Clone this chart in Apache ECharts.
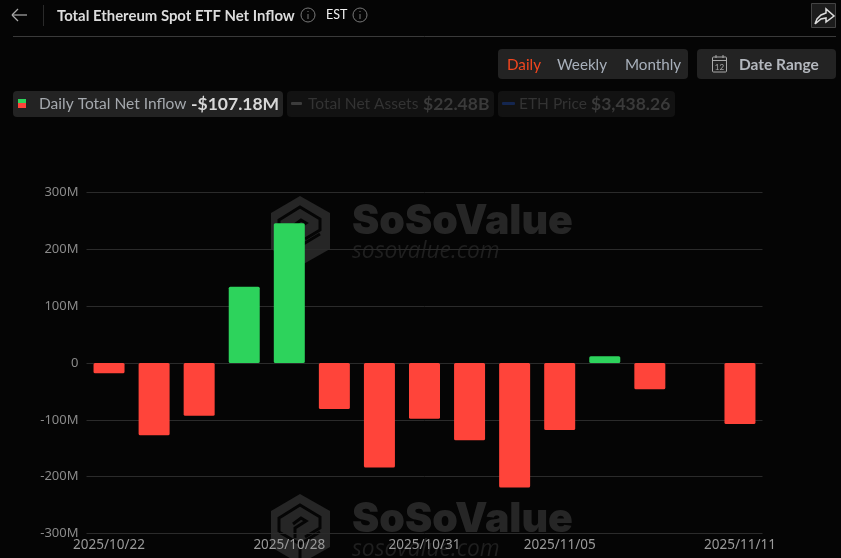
<!DOCTYPE html>
<html><head><meta charset="utf-8">
<style>html,body{margin:0;padding:0;background:#050505;overflow:hidden}#c{width:841px;height:558px}</style>
<script src="https://cdn.jsdelivr.net/npm/echarts@6/dist/echarts.min.js"></script>
</head><body><div id="c"></div>
<script>
const categories=['2025/10/22','2025/10/23','2025/10/24','2025/10/27','2025/10/28','2025/10/29','2025/10/30','2025/10/31','2025/11/03','2025/11/04','2025/11/05','2025/11/06','2025/11/07','2025/11/10','2025/11/11'];
const netInflow=[-18,-127,-93,134,246,-81,-184,-98,-136,-219,-118,12,-46,0,-107.18];
const shownLabels=['2025/10/22','2025/10/28','2025/10/31','2025/11/05','2025/11/11'];
const LATO='Lato, "Noto Sans", sans-serif';
const UP='#2dd35c',DOWN='#ff443a',WM='#262626',BG='#050505';
const chart=echarts.init(document.getElementById('c'));
function T(x,y,text,size,fill,weight,align){return {type:'text',silent:true,z:10,style:{x,y,text,fill,font:(weight||'normal')+' '+size+'px '+LATO,textAlign:align||'left',textVerticalAlign:'middle'}};}
function R(x,y,w,h,fill,r,stroke){return {type:'rect',silent:true,z:9,shape:{x,y,width:w,height:h,r:r||0},style:{fill:fill,stroke:stroke||null}};}
function L(x1,y1,x2,y2,c,w){return {type:'line',silent:true,z:10,shape:{x1,y1,x2,y2},style:{stroke:c,lineWidth:w||1}};}
function P(points,c,w,z){return {type:'polyline',silent:true,z:z===undefined?10:z,shape:{points},style:{stroke:c,lineWidth:w||1,fill:null,lineJoin:'miter'}};}
function info(cx,cy){return [{type:'circle',silent:true,z:10,shape:{cx,cy,r:7},style:{fill:null,stroke:'#777',lineWidth:1}},L(cx,cy-1,cx,cy+4,'#777'),L(cx,cy-4,cx,cy-3,'#777')];}
function mark(dy){
  const sh=p=>p.map(q=>[q[0],q[1]+dy]);
  return [
   {type:'polygon',silent:true,z:-2,shape:{points:sh([[300,196],[330,213],[330,249],[300,266],[271,249],[271,213]])},style:{fill:WM}},
   P(sh([[279,234],[279,220],[300,207],[320,219],[320,230],[305,239]]),BG,3,-1),
   P(sh([[293,226],[301,220],[306,223],[295,230],[295,240]]),BG,3,-1),
   P(sh([[279,234],[300,246],[300,266]]),BG,3,-1),
   P(sh([[300,246],[320,234]]),BG,3,-1),
   {type:'text',silent:true,z:-1,style:{x:352,y:222+dy,text:'SoSoValue',fill:WM,font:'900 41px Inter, Roboto, sans-serif',textVerticalAlign:'middle'}},
   {type:'text',silent:true,z:-1,style:{x:352,y:252+dy,text:'sosovalue.com',fill:'#1f1f1f',font:'italic 22.8px "Open Sans", sans-serif',textVerticalAlign:'middle'}}
  ];
}
const graphic=[].concat(
 mark(0),mark(298),
 [L(12,15,27,15,'#aaa',1.2),L(12,15,18,9,'#aaa',1.2),L(12,15,18,21,'#aaa',1.2),L(43.5,5,43.5,26,'#2a2a2a'),
  T(57,16,'Total Ethereum Spot ETF Net Inflow',14.9,'#dcdcdc','bold')],
 info(308,15),[T(326,15,'EST',12.5,'#f2f2f2','normal')],info(360,15),
 [L(13,36.5,836,36.5,'#3a3a3a'),
  R(811.5,3.5,24,24,'#1c1c1c',0,'#444'),
  P([[815,24],[817,19],[821,15],[826,13],[826,9],[834,16],[826,22],[826,18],[821,19],[815,24]],'#ddd',1.5),
  R(498,49,190,30,'#232323',4),
  T(507,65,'Daily',15.2,'#f2461f'),T(557,65,'Weekly',15.2,'#a8b0bb'),T(625,65,'Monthly',15.2,'#a8b0bb'),
  R(697,49,139,30,'#232323',4),
  {type:'rect',silent:true,z:10,shape:{x:712.5,y:57,width:14,height:15,r:1},style:{fill:null,stroke:'#aaa'}},
  L(712.5,60.5,726.5,60.5,'#aaa'),L(716,55,716,58,'#aaa'),L(723,55,723,58,'#aaa'),
  {type:'text',silent:true,z:10,style:{x:719.5,y:67,text:'12',fill:'#aaa',font:'8px '+LATO,textAlign:'center',textVerticalAlign:'middle'}},
  T(739,65,'Date Range',15.5,'#b4b8be','bold'),
  R(13,91,270,26,'#232323',4),
  R(18,99,8,4,UP),R(18,103,8,5,DOWN),
  T(39,104,'Daily Total Net Inflow',15.5,'#a5a9ae'),T(191,104,'-$107.18M',17.5,'#d8d8d8','bold'),
  R(287,91,207,26,'#121212',4),R(291,102,11,3,'#3c3c3c',1),
  T(308,104,'Total Net Assets',15.5,'#333'),T(423,104,'$22.48B',17.5,'#3a3a3a','bold'),
  R(498,91,177,26,'#121212',4),R(502,102,13,3,'#14264f',1),
  T(519,104,'ETH Price',15.5,'#333'),T(591,104,'$3,438.26',17.5,'#3a3a3a','bold')]
);
chart.setOption({
 animation:false,backgroundColor:BG,
 grid:{left:86.5,right:78.5,top:192.5,height:341,containLabel:false},
 graphic:{elements:graphic},
 xAxis:{type:'category',data:categories,
  axisLine:{show:false},axisTick:{show:false},splitLine:{show:false},
  axisLabel:{interval:(i,v)=>shownLabels.includes(v),color:'#9a9a9a',fontSize:13.5,fontFamily:'"Noto Sans", sans-serif',margin:5,hideOverlap:false,showMinLabel:true,showMaxLabel:true,verticalAlign:'top'}},
 yAxis:{type:'value',min:-300,max:300,interval:100,
  axisLine:{show:false},axisTick:{show:false},
  splitLine:{lineStyle:{color:'#2b2b2b',width:1}},
  axisLabel:{color:'#8a8a8a',fontSize:13,fontFamily:'"Noto Sans", sans-serif',margin:8,formatter:v=>v===0?'0':v+'M'}},
 series:[{type:'bar',data:netInflow,barWidth:31,z:5,
  itemStyle:{borderRadius:1.5,color:p=>p.value>=0?UP:DOWN}}]
});
</script></body></html>
